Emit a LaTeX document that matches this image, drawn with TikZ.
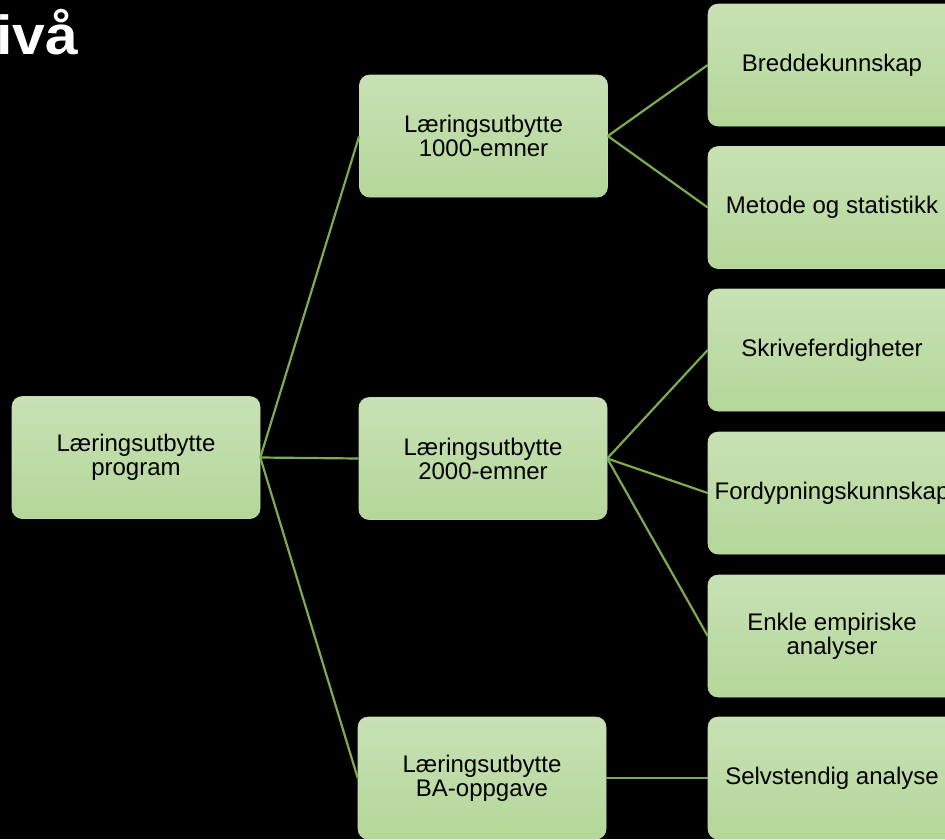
\documentclass[tikz,border=0pt]{standalone}
\usepackage{fontspec}
\setmainfont{Liberation Sans}
\definecolor{boxtop}{RGB}{200,225,181}
\definecolor{boxbot}{RGB}{180,215,153}
\definecolor{boxedge}{RGB}{196,220,176}
\definecolor{linkc}{RGB}{125,172,80}
\tikzset{
  box/.style={rectangle, rounded corners=10pt, minimum width=248pt, minimum height=122pt,
    inner sep=2pt, top color=boxtop, bottom color=boxbot, draw=boxedge, line width=0.6pt,
    align=center, font=\fontsize{24}{24}\selectfont, text=black},
  link/.style={draw=linkc, line width=2.2pt}
}
\begin{document}
\begin{tikzpicture}[x=1pt,y=-1pt]
\fill[black] (0,0) rectangle (945,839);
\useasboundingbox (0,0) rectangle (945,839);
\node[anchor=base west, inner sep=0pt, text=white, font=\bfseries\fontsize{55}{55}\selectfont] (title) at (-4,54) {\scalebox{1.07}[1]{ivå}};

\node[box] (l0) at (136,457.5) {Læringsutbytte\\program};
\node[box] (m1) at (483.5,136) {Læringsutbytte\\1000-emner};
\node[box] (m2) at (483,458.5) {Læringsutbytte\\2000-emner};
\node[box] (m3) at (482,778) {Læringsutbytte\\BA-oppgave};

\node[box] (r1) at (832,65) {Breddekunnskap};
\node[box] (r2) at (832,207.5) {Metode og statistikk};
\node[box] (r3) at (832,350) {Skriveferdigheter};
\node[box] (r4) at (832,493) {Fordypningskunnskap};
\node[box] (r5) at (832,636) {Enkle empiriske\\analyser};
\node[box] (r6) at (832,778) {Selvstendig analyse};

\draw[link] (l0.east) -- (m1.west);
\draw[link] (l0.east) -- (m2.west);
\draw[link] (l0.east) -- (m3.west);
\draw[link] (m1.east) -- (r1.west);
\draw[link] (m1.east) -- (r2.west);
\draw[link] (m2.east) -- (r3.west);
\draw[link] (m2.east) -- (r4.west);
\draw[link] (m2.east) -- (r5.west);
\draw[link] (m3.east) -- (r6.west);
\end{tikzpicture}
\end{document}
